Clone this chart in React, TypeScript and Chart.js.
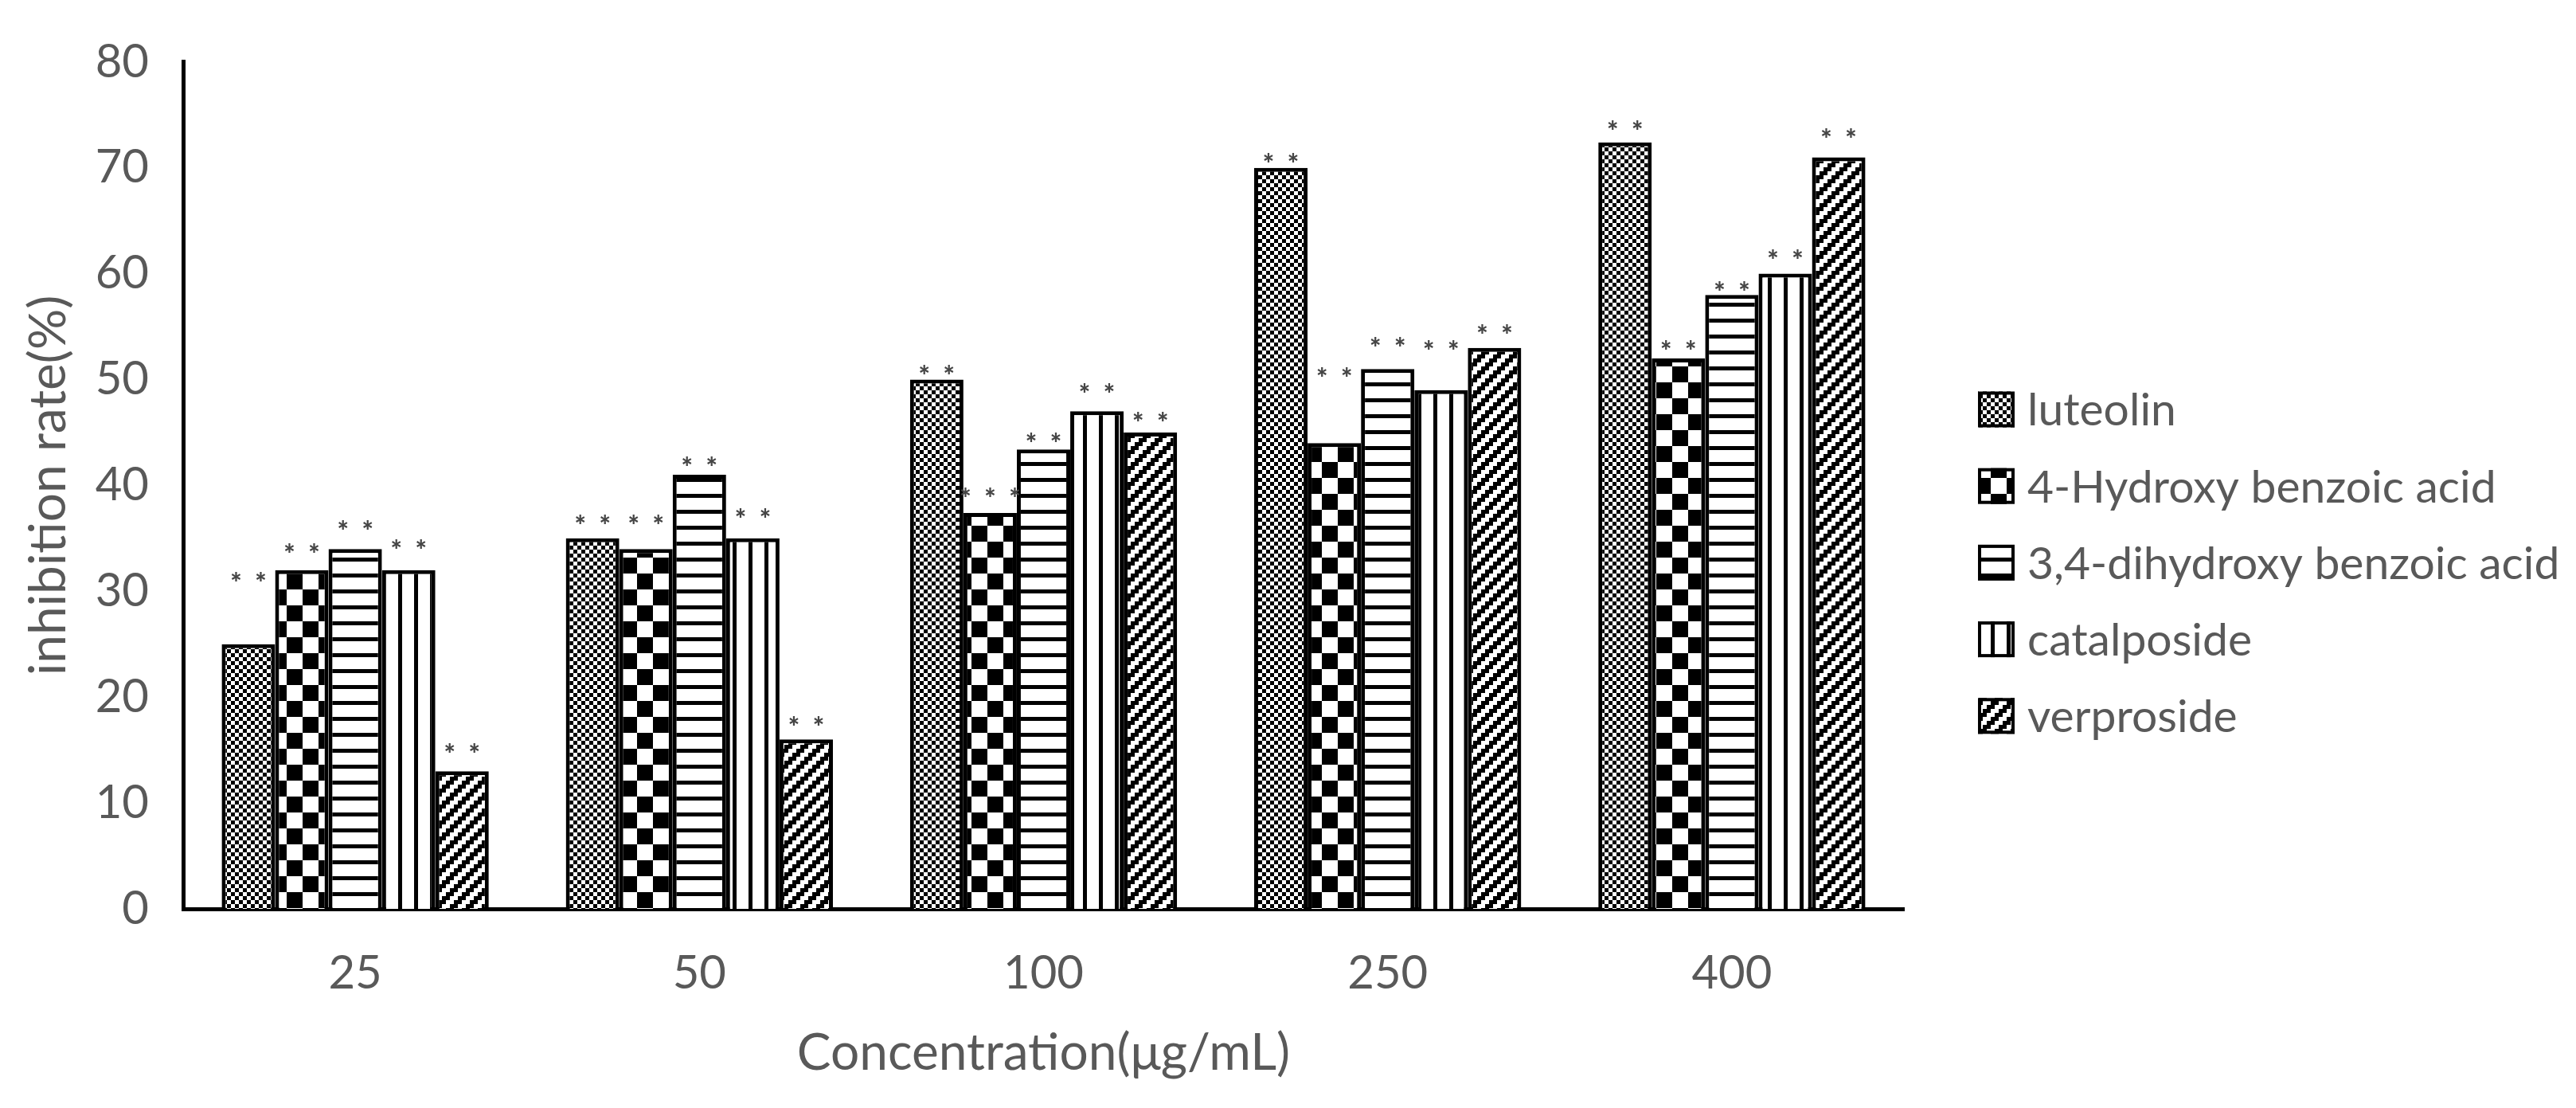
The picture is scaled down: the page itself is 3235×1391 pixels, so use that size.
import { useEffect, useRef } from 'react';
import Chart from 'chart.js/auto';

const concentrations = ['25', '50', '100', '250', '400'];
const seriesNames = [
  'luteolin',
  '4-Hydroxy benzoic acid',
  '3,4-dihydroxy benzoic acid',
  'catalposide',
  'verproside',
];

// inhibition rate (%)
const luteolin = [25, 35, 50, 70, 72.4];
const hydroxyBenzoic = [32, 34, 37.4, 44, 52];
const dihydroxyBenzoic = [34, 41, 43.4, 51, 58];
const catalposide = [32, 35, 47, 49, 60];
const verproside = [13, 16, 45, 53, 71];

// significance marks, and the level (%) each one sits at
const luteolinMarks = ['**', '**', '**', '**', '**'];
const hydroxyMarks = ['**', '**', '***', '**', '**'];
const dihydroxyMarks = ['**', '**', '**', '**', '**'];
const catalposideMarks = ['**', '**', '**', '**', '**'];
const verprosideMarks = ['**', '**', '**', '**', '**'];

const luteolinMarkAt = [31.3, 36.7, 50.9, 70.9, 74.0];
const hydroxyMarkAt = [34.0, 36.7, 39.3, 50.6, 53.2];
const dihydroxyMarkAt = [36.2, 42.2, 44.5, 53.5, 58.8];
const catalposideMarkAt = [34.4, 37.3, 49.1, 53.2, 61.8];
const verprosideMarkAt = [15.1, 17.7, 46.4, 54.7, 73.2];

const marks = [luteolinMarks, hydroxyMarks, dihydroxyMarks, catalposideMarks, verprosideMarks];
const markLevels = [luteolinMarkAt, hydroxyMarkAt, dihydroxyMarkAt, catalposideMarkAt, verprosideMarkAt];

const TEXT = '#595959';
const FONT = 'Lato';

type Kind = 'fine' | 'big' | 'h' | 'v' | 'diag';

function makePattern(ctx: CanvasRenderingContext2D, kind: Kind) {
  const u = 5;
  const size = kind === 'fine' ? 2 * u : kind === 'big' ? 8 * u : 4 * u;
  const c = document.createElement('canvas');
  c.width = size;
  c.height = size;
  const g = c.getContext('2d')!;
  g.fillStyle = '#fff';
  g.fillRect(0, 0, size, size);
  g.fillStyle = '#000';
  if (kind === 'fine') {
    g.fillRect(0, 0, u, u);
    g.fillRect(u, u, u, u);
  } else if (kind === 'big') {
    g.fillRect(0, 0, 4 * u, 4 * u);
    g.fillRect(4 * u, 4 * u, 4 * u, 4 * u);
  } else if (kind === 'h') {
    g.fillRect(0, 0, size, u);
  } else if (kind === 'v') {
    g.fillRect(0, 0, u, size);
  } else {
    for (let i = 0; i < 4; i++) {
      for (let j = 0; j < 4; j++) {
        if ((i + j) % 4 < 2) g.fillRect(i * u, j * u, u, u);
      }
    }
  }
  return ctx.createPattern(c, 'repeat')!;
}

// draws the ** marks above the bars
const marksPlugin = {
  id: 'marks',
  afterDatasetsDraw(chart: any) {
    const { ctx } = chart;
    const y = chart.scales.y;
    ctx.save();
    ctx.fillStyle = '#454545';
    ctx.font = `900 34px ${FONT}`;
    ctx.textAlign = 'center';
    ctx.textBaseline = 'middle';
    chart.data.datasets.forEach((_ds: any, di: number) => {
      chart.getDatasetMeta(di).data.forEach((bar: any, i: number) => {
        const m = marks[di][i];
        const py = y.getPixelForValue(markLevels[di][i]) + 8;
        for (let k = 0; k < m.length; k++) {
          ctx.fillText(m[k], bar.x + (k - (m.length - 1) / 2) * 31, py);
        }
      });
    });
    ctx.restore();
  },
};

// legend on the right, Excel style
const legendPlugin = {
  id: 'sideLegend',
  afterDraw(chart: any) {
    const { ctx } = chart;
    ctx.save();
    ctx.font = `57px ${FONT}`;
    ctx.textBaseline = 'middle';
    ctx.textAlign = 'left';
    chart.data.datasets.forEach((ds: any, i: number) => {
      const cy = 514 + i * 96.2;
      const bx = 2484;
      const bw = 46;
      const bh = 45;
      ctx.fillStyle = ds.backgroundColor;
      ctx.fillRect(bx, cy - bh / 2, bw, bh);
      ctx.strokeStyle = '#000';
      ctx.lineWidth = 4;
      ctx.strokeRect(bx + 2, cy - bh / 2 + 2, bw - 4, bh - 4);
      ctx.fillStyle = TEXT;
      ctx.fillText(ds.label, 2546, cy + 2);
    });
    ctx.restore();
  },
};

export default function App() {
  const chartRef = useRef<HTMLCanvasElement>(null);
  const chartInstance = useRef<Chart | null>(null);

  useEffect(() => {
    document.body.style.margin = '0';
    if (!chartRef.current) return;
    if (chartInstance.current) chartInstance.current.destroy();

    const ctx = chartRef.current.getContext('2d')!;
    const fills = [
      makePattern(ctx, 'fine'),
      makePattern(ctx, 'big'),
      makePattern(ctx, 'h'),
      makePattern(ctx, 'v'),
      makePattern(ctx, 'diag'),
    ];
    const values = [luteolin, hydroxyBenzoic, dihydroxyBenzoic, catalposide, verproside];

    chartInstance.current = new Chart(chartRef.current, {
      type: 'bar',
      data: {
        labels: concentrations,
        datasets: values.map((v, i) => ({
          label: seriesNames[i],
          data: v,
          backgroundColor: fills[i] as any,
          borderColor: '#000',
          borderWidth: 5,
          borderSkipped: 'start',
          categoryPercentage: 0.776,
          barPercentage: 1,
        })),
      },
      options: {
        responsive: false,
        animation: false,
        devicePixelRatio: 1,
        layout: { padding: { top: 39, right: 844, bottom: 0, left: 0 } },
        plugins: {
          legend: { display: false },
          tooltip: { enabled: false },
        },
        scales: {
          x: {
            grid: { display: false, drawTicks: false },
            border: { color: '#000', width: 5 },
            ticks: { color: TEXT, font: { family: FONT, size: 58 }, padding: 46 },
            title: {
              display: true,
              text: 'Concentration(μg/mL)',
              color: TEXT,
              font: { family: FONT, size: 64 },
              padding: { top: 0, bottom: 30 },
            },
            afterFit: (s: any) => {
              s.height = 250;
            },
          },
          y: {
            min: 0,
            max: 80,
            grid: { display: false, drawTicks: false },
            border: { color: '#000', width: 5 },
            ticks: { stepSize: 10, color: TEXT, font: { family: FONT, size: 58 }, padding: 43 },
            title: {
              display: true,
              text: 'inhibition rate(%)',
              color: TEXT,
              font: { family: FONT, size: 64 },
              padding: { top: 23, bottom: 0 },
            },
            afterFit: (s: any) => {
              s.width = 230;
            },
          },
        },
      },
      plugins: [marksPlugin, legendPlugin],
    });

    return () => {
      if (chartInstance.current) {
        chartInstance.current.destroy();
        chartInstance.current = null;
      }
    };
  }, []);

  return (
    <div style={{ width: 3235, height: 1391, background: '#fff' }}>
      <canvas ref={chartRef} width={3235} height={1391} />
    </div>
  );
}
